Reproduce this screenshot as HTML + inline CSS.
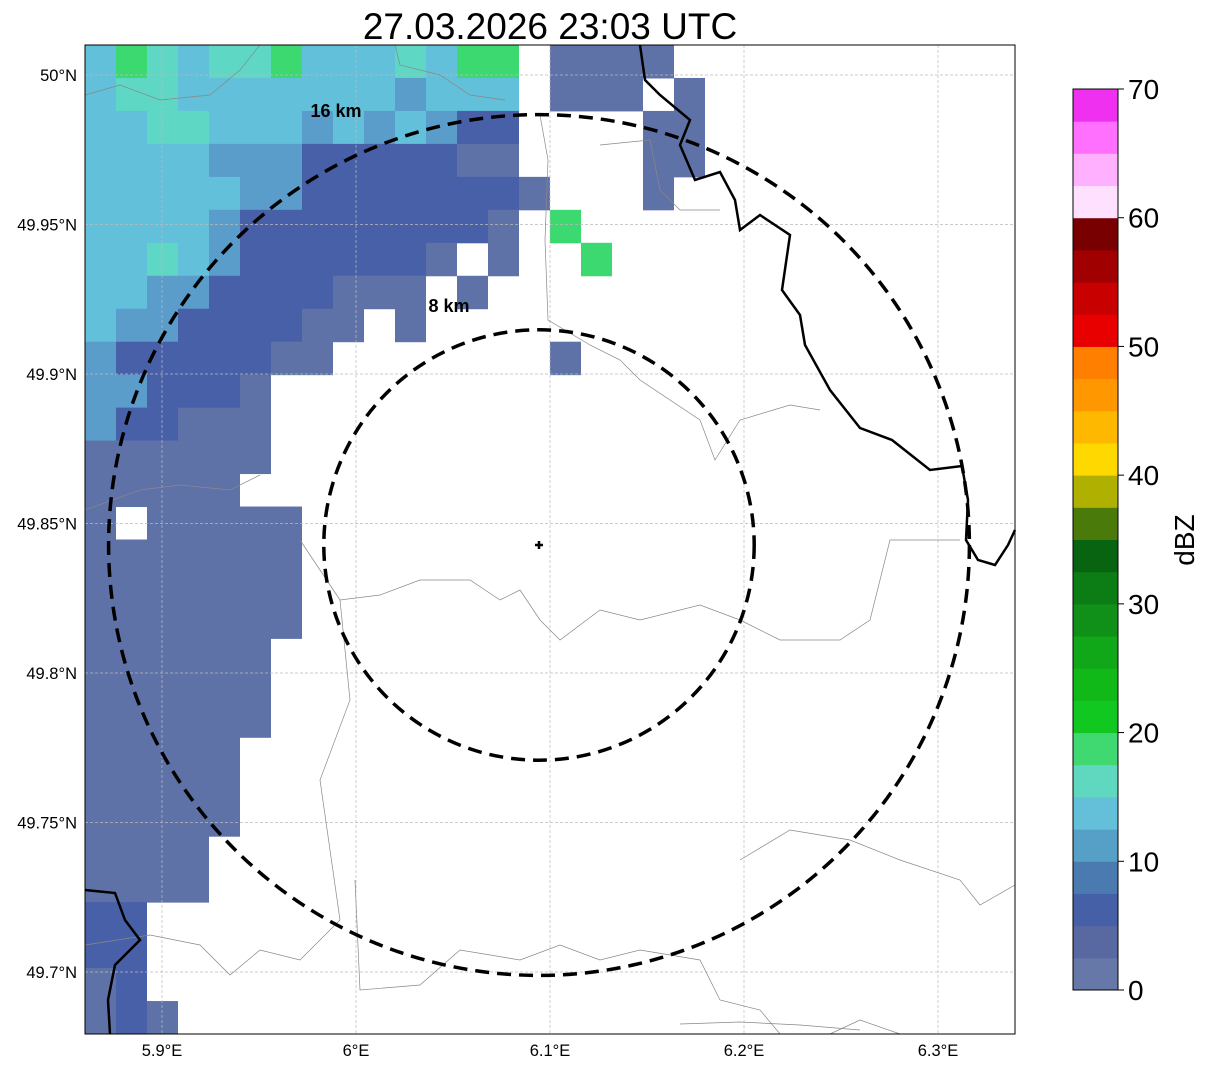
<!DOCTYPE html>
<html><head><meta charset="utf-8"><style>
body{margin:0;background:#fff;width:1207px;height:1069px;overflow:hidden;font-family:"Liberation Sans","DejaVu Sans",sans-serif}
svg{position:absolute;left:0;top:0}
</style></head><body>
<svg id="s" width="1207" height="1069" xmlns="http://www.w3.org/2000/svg">
<text x="550" y="39" font-size="37" text-anchor="middle">27.03.2026 23:03 UTC</text>
<g id="map"></g>
<g id="cb"></g>
</svg>
<script>
const NS="http://www.w3.org/2000/svg";
// radar grid rows (30 cols x 30 rows), '.'=none, a..g reflectivity classes
const radarRows=[
"dgedeegdddedgg.aaaa...........",
"deedddddddcddd.aaa.a..........",
"ddeedddcdcdcbb....aa..........",
"ddddcccbbbbbaa....aa..........",
"dddddccbbbbbbba...a...........",
"ddddcbbbbbbbba.g..............",
"ddedcbbbbbba.a..g.............",
"ddccbbbbaaa.a.................",
"dccbbbbaa.a...................",
"cbbbbbaa.......a..............",
"ccbbba........................",
"cbbaaa........................",
"aaaaaa........................",
"aaaaa.........................",
"a.aaaaa.......................",
"aaaaaaa.......................",
"aaaaaaa.......................",
"aaaaaaa.......................",
"aaaaaa........................",
"aaaaaa........................",
"aaaaaa........................",
"aaaaa.........................",
"aaaaa.........................",
"aaaaa.........................",
"aaaa..........................",
"aaaa..........................",
"bb............................",
"bb............................",
"ab............................",
"aba..........................."];
const classColors={a:"#5f72a8",b:"#4860a8",c:"#5a9cca",d:"#62c0da",e:"#5ed8c4",g:"#3cd870"};
const lonTicks=[5.9,6.0,6.1,6.2,6.3];
const lonLabels=["5.9°E","6°E","6.1°E","6.2°E","6.3°E"];
const latTicks=[50.0,49.95,49.9,49.85,49.8,49.75,49.7];
const latLabels=["50°N","49.95°N","49.9°N","49.85°N","49.8°N","49.75°N","49.7°N"];
const ringKm=[8,16];
const cbColors=["#6678a8","#5868a0","#4660a8","#4a7ab0","#56a0c8","#64c0d8","#60d8c0","#40d870","#10c820","#10b818","#10a818","#109018","#0c7c14","#086410","#4a7a0a","#b0b000","#ffd800","#ffb800","#ff9800","#ff8000","#e80000","#c80000","#a00000","#780000","#ffe0ff","#ffb0ff","#ff70ff","#f030f0"];
const cbTicks=[0,10,20,30,40,50,60,70];

const X0=85,X1=1015,Y0=45,Y1=1034;
const xOf=lon=>162+(lon-5.9)*1940;
const yOf=lat=>75+(50-lat)*2990;
const map=document.getElementById('map');
function el(t,a,p){const e=document.createElementNS(NS,t);for(const k in a)e.setAttribute(k,a[k]);(p||map).appendChild(e);return e;}

const cw=31,ch=(Y1-Y0)/30;
radarRows.forEach((row,r)=>{[...row].forEach((c,i)=>{
 if(c==='.'||!classColors[c])return;
 const x=X0+i*cw; if(x>=X1)return;
 const e=el('rect',{x:x,y:Y0+r*ch,width:Math.min(cw,X1-x),height:ch+0.5,fill:classColors[c]});
 
 
});});

lonTicks.forEach((v,i)=>{const x=xOf(v);
 el('line',{x1:x,x2:x,y1:Y0,y2:Y1,stroke:"#bbb","stroke-width":0.7,"stroke-dasharray":"3,2"});
 const t=el('text',{x:x,y:1056,"font-size":16.5,"text-anchor":"middle"});t.textContent=lonLabels[i];
 
});
latTicks.forEach((v,i)=>{const y=yOf(v);
 el('line',{x1:X0,x2:X1,y1:y,y2:y,stroke:"#bbb","stroke-width":0.7,"stroke-dasharray":"3,2"});
 const t=el('text',{x:77,y:y+6,"font-size":16.5,"text-anchor":"end"});t.textContent=latLabels[i];
 
});
["M85,95 L120,85 L160,100 L210,95 L240,70 L260,45","M395,45 L400,65 L440,75 L470,95 L505,100","M540,115 L548,160 L545,240 L548,320 L590,345 L620,360 L640,380 L700,420 L715,460 L740,420 L790,405 L820,410",
"M85,510 L140,490 L180,485 L230,490 L260,475","M300,540 L340,600 L380,595 L420,580 L470,580 L500,600 L520,590 L540,620 L560,640 L600,610 L640,620 L700,605 L740,620 L780,640 L840,640 L870,620 L890,540 L960,540",
"M355,880 L360,990 L420,985 L460,950 L520,960 L560,945 L600,960 L640,950 L700,960 L720,1000 L760,1010 L780,1034","M85,945 L150,935 L200,945 L230,975 L260,950 L300,960 L340,920 L320,780 L350,700 L340,600",
"M830,1034 L860,1020 L900,1034","M740,860 L790,830 L850,840 L900,860 L960,880 L980,905 L1015,885","M680,1024 L740,1022 L800,1025 L860,1030","M600,145 L650,140 L660,190 L680,210 L720,210"].forEach(d=>{
 el('path',{d:d,fill:"none",stroke:"#888","stroke-width":0.7});});
el('path',{d:"M640,45 L645,80 L660,95 L690,120 L680,145 L695,180 L720,172 L735,200 L740,230 L760,215 L790,235 L782,290 L800,315 L805,345 L830,390 L860,428 L892,440 L930,470 L962,466 L968,500 L966,540 L978,560 L995,565 L1008,545 L1015,530",fill:"none",stroke:"#000","stroke-width":2.5});
el('path',{d:"M85,890 L115,893 L125,920 L140,940 L115,965 L108,1000 L110,1034",fill:"none",stroke:"#000","stroke-width":2.5});
const cx=539,cy=545,pxPerKm=26.9;
const ringLabelPos={8:[449,312],16:[336,117]};
ringKm.forEach(k=>{const r=k*pxPerKm;
 const c=el('circle',{cx:cx,cy:cy,r:r,fill:"none",stroke:"#000","stroke-width":3.5,"stroke-dasharray":"14,8"});
 
 const p=ringLabelPos[k];
 const t=el('text',{x:p[0],y:p[1],"font-size":18,"font-weight":"bold","text-anchor":"middle"});t.textContent=k+" km";
 
});
el('path',{d:"M535,545 H543 M539,541 V549",stroke:"#000","stroke-width":2.5});
el('rect',{x:X0,y:Y0,width:X1-X0,height:Y1-Y0,fill:"none",stroke:"#000","stroke-width":1});

const cb=document.getElementById('cb');
const cbT=89,cbB=990,cbX=1073,cbW=45;
const yCb=v=>cbB-(v/70)*(cbB-cbT);
cbColors.forEach((c,i)=>{const y1=yCb(i*2.5),y2=yCb((i+1)*2.5);
 const r=el('rect',{x:cbX,y:y2,width:cbW,height:y1-y2+0.5,fill:c},cb);
 });
el('rect',{x:cbX,y:cbT,width:cbW,height:cbB-cbT,fill:"none",stroke:"#000","stroke-width":1},cb);
cbTicks.forEach(v=>{const y=yCb(v);
 el('line',{x1:cbX+cbW,x2:cbX+cbW+6,y1:y,y2:y,stroke:"#000"},cb);
 const t=el('text',{x:1128,y:y+10,"font-size":28},cb);t.textContent=v;
 });
const lab=el('text',{x:1194,y:540,"font-size":28,"text-anchor":"middle",transform:"rotate(-90 1194 540)"},cb);lab.textContent="dBZ";

</script>
</body></html>
